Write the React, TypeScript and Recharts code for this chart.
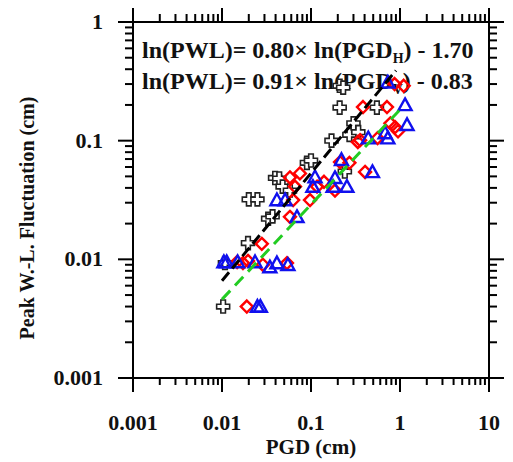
import { ScatterChart, Scatter, XAxis, YAxis } from "recharts";

// black open crosses
const crossPgd = [0.0103, 0.0108, 0.0196, 0.033, 0.037, 0.02, 0.025, 0.0395, 0.044, 0.048, 0.058, 0.09, 0.1, 0.24, 0.17, 0.27, 0.3, 0.34, 0.21, 0.55, 0.21, 0.23];
const crossPwl = [0.004, 0.0093, 0.0137, 0.022, 0.023, 0.032, 0.032, 0.0485, 0.048, 0.041, 0.038, 0.065, 0.068, 0.055, 0.1, 0.112, 0.14, 0.118, 0.19, 0.19, 0.29, 0.28];

// red open diamonds
const diamondPgd = [0.019, 0.028, 0.0148, 0.0172, 0.0196, 0.0288, 0.0537, 0.058, 0.063, 0.058, 0.075, 0.066, 0.0975, 0.117, 0.14, 0.186, 0.212, 0.27, 0.336, 0.405, 0.356, 0.56, 0.384, 0.714, 0.78, 0.88, 0.95, 0.87, 1.1];
const diamondPwl = [0.004, 0.0135, 0.0095, 0.0093, 0.0097, 0.009, 0.0093, 0.0228, 0.0316, 0.049, 0.053, 0.041, 0.0316, 0.041, 0.045, 0.038, 0.066, 0.065, 0.0975, 0.0545, 0.101, 0.105, 0.192, 0.192, 0.14, 0.13, 0.12, 0.3, 0.29];

// blue open triangles
const trianglePgd = [0.025, 0.027, 0.0105, 0.0113, 0.015, 0.0235, 0.0345, 0.0414, 0.055, 0.0414, 0.0512, 0.0696, 0.111, 0.105, 0.186, 0.177, 0.253, 0.22, 0.49, 0.44, 0.73, 0.68, 1.2, 1.14, 0.73];
const trianglePwl = [0.004, 0.004, 0.0095, 0.0095, 0.0095, 0.0095, 0.0086, 0.0093, 0.009, 0.0316, 0.0316, 0.0228, 0.0494, 0.041, 0.0486, 0.041, 0.041, 0.069, 0.0545, 0.105, 0.105, 0.116, 0.136, 0.2, 0.31];

// regression lines (end points)
const blackFitPgd = [0.01, 0.9];
const blackFitPwl = [0.0066, 0.39];
const greenFitPgd = [0.01, 1.05];
const greenFitPwl = [0.0046, 0.19];

const decades = [0.001, 0.01, 0.1, 1];
const pgdTicks: number[] = [];
decades.forEach((d) => {
  for (let m = 1; m < 10; m++) pgdTicks.push(Number((m * d).toPrecision(3)));
});
pgdTicks.push(10);
const pwlTicks = pgdTicks.filter((v) => v <= 1);

const zip = (xs: number[], ys: number[]) => xs.map((x, i) => ({ x, y: ys[i] }));

const font = "Liberation Serif";
const isMajor = (v: number) => Math.abs(Math.log10(v) - Math.round(Math.log10(v))) < 1e-6;
const ink = "#000";

// tickSize and tickMargin are 0, so x / y handed to a tick sit on the axis line
function BottomTick({ x, y, payload }: any) {
  const major = isMajor(payload.value);
  return (
    <g>
      <line x1={x} y1={y} x2={x} y2={y + (major ? 14 : 7)} stroke={ink} strokeWidth={2} />
      {major && (
        <text x={x} y={y + 52} textAnchor="middle" fontFamily={font} fontWeight="bold" fontSize={22} fill="#111">
          {String(payload.value)}
        </text>
      )}
    </g>
  );
}

function TopTick({ x, y, payload }: any) {
  const major = isMajor(payload.value);
  return <line x1={x} y1={y} x2={x} y2={y - (major ? 14 : 8)} stroke={ink} strokeWidth={2} />;
}

function LeftTick({ x, y, payload }: any) {
  const major = isMajor(payload.value);
  return (
    <g>
      <line x1={x} y1={y} x2={x - (major ? 15 : 8)} y2={y} stroke={ink} strokeWidth={2} />
      {major && (
        <text x={x - 30} y={y + 7} textAnchor="end" fontFamily={font} fontWeight="bold" fontSize={22} fill="#111">
          {String(payload.value)}
        </text>
      )}
    </g>
  );
}

function RightTick({ x, y, payload }: any) {
  const major = isMajor(payload.value);
  return <line x1={x} y1={y} x2={x + (major ? 15 : 8)} y2={y} stroke={ink} strokeWidth={2} />;
}

function Cross({ cx, cy }: any) {
  const a = 6.5;
  const b = 2.3;
  const d = `M${cx - b},${cy - a}H${cx + b}V${cy - b}H${cx + a}V${cy + b}H${cx + b}V${cy + a}H${cx - b}V${cy + b}H${cx - a}V${cy - b}H${cx - b}Z`;
  return <path d={d} fill="#fff" stroke="#222" strokeWidth={1.6} />;
}

function Diamond({ cx, cy }: any) {
  const r = 6;
  return <path d={`M${cx},${cy - r}L${cx + r},${cy}L${cx},${cy + r}L${cx - r},${cy}Z`} fill="none" stroke="#ff0000" strokeWidth={2.4} />;
}

function Triangle({ cx, cy }: any) {
  const r = 6.5;
  return <path d={`M${cx},${cy - r}L${cx + r},${cy + r * 0.8}L${cx - r},${cy + r * 0.8}Z`} fill="none" stroke="#1010ee" strokeWidth={2.4} />;
}

const NoDot = () => <g />;

export default function App() {
  return (
    <div style={{ position: "relative", width: 505, height: 454 }}>
      <svg width={505} height={454} style={{ position: "absolute", left: 0, top: 0 }}>
        <text x={134} y={50} fontFamily={font} fontWeight="bold" fontSize={24} fill="#111">
          ln(PWL)= 0.80× ln(PGD<tspan dy={5} fontSize={14}>H</tspan><tspan dy={-5}>) - 1.70</tspan>
        </text>
        <text x={134} y={81} fontFamily={font} fontWeight="bold" fontSize={24} fill="#111">
          ln(PWL)= 0.91× ln(PGD<tspan dy={5} fontSize={14}>V</tspan><tspan dy={-5}>) - 0.83</tspan>
        </text>
        <text x={303} y={446} textAnchor="middle" fontFamily={font} fontWeight="bold" fontSize={21} fill="#111">
          PGD (cm)
        </text>
        <text transform="translate(26,210) rotate(-90)" textAnchor="middle" fontFamily={font} fontWeight="bold" fontSize={20} fill="#111">
          Peak W.-L. Fluctuation (cm)
        </text>
      </svg>
      <div style={{ position: "absolute", left: 0, top: 0 }}>
        <ScatterChart width={505} height={454} margin={{ top: 13, right: 23, bottom: 24, left: 0 }}>
          <XAxis xAxisId="b" dataKey="x" type="number" scale="log" domain={[0.001, 10]} allowDataOverflow ticks={pgdTicks} interval={0} height={60} tickSize={0} tickMargin={0} tick={<BottomTick />} axisLine={{ stroke: ink, strokeWidth: 2 }} />
          <XAxis xAxisId="t" orientation="top" dataKey="x" type="number" scale="log" domain={[0.001, 10]} allowDataOverflow ticks={pgdTicks} interval={0} height={1} tickSize={0} tickMargin={0} tick={<TopTick />} axisLine={{ stroke: ink, strokeWidth: 2 }} />
          <YAxis yAxisId="l" dataKey="y" type="number" scale="log" domain={[0.001, 1]} allowDataOverflow ticks={pwlTicks} interval={0} width={125} tickSize={0} tickMargin={0} tick={<LeftTick />} axisLine={{ stroke: ink, strokeWidth: 2 }} />
          <YAxis yAxisId="r" orientation="right" dataKey="y" type="number" scale="log" domain={[0.001, 1]} allowDataOverflow ticks={pwlTicks} interval={0} width={1} tickSize={0} tickMargin={0} tick={<RightTick />} axisLine={{ stroke: ink, strokeWidth: 2 }} />
          <Scatter xAxisId="b" yAxisId="l" data={zip(crossPgd, crossPwl)} shape={<Cross />} isAnimationActive={false} />
          <Scatter xAxisId="b" yAxisId="l" data={zip(diamondPgd, diamondPwl)} shape={<Diamond />} isAnimationActive={false} />
          <Scatter xAxisId="b" yAxisId="l" data={zip(trianglePgd, trianglePwl)} shape={<Triangle />} isAnimationActive={false} />
          <Scatter xAxisId="t" yAxisId="r" data={zip(greenFitPgd, greenFitPwl)} line={{ stroke: "#22cc22", strokeWidth: 3, strokeDasharray: "12 7" }} shape={<NoDot />} isAnimationActive={false} />
          <Scatter xAxisId="t" yAxisId="r" data={zip(blackFitPgd, blackFitPwl)} line={{ stroke: ink, strokeWidth: 3, strokeDasharray: "11 5" }} shape={<NoDot />} isAnimationActive={false} />
        </ScatterChart>
      </div>
    </div>
  );
}
